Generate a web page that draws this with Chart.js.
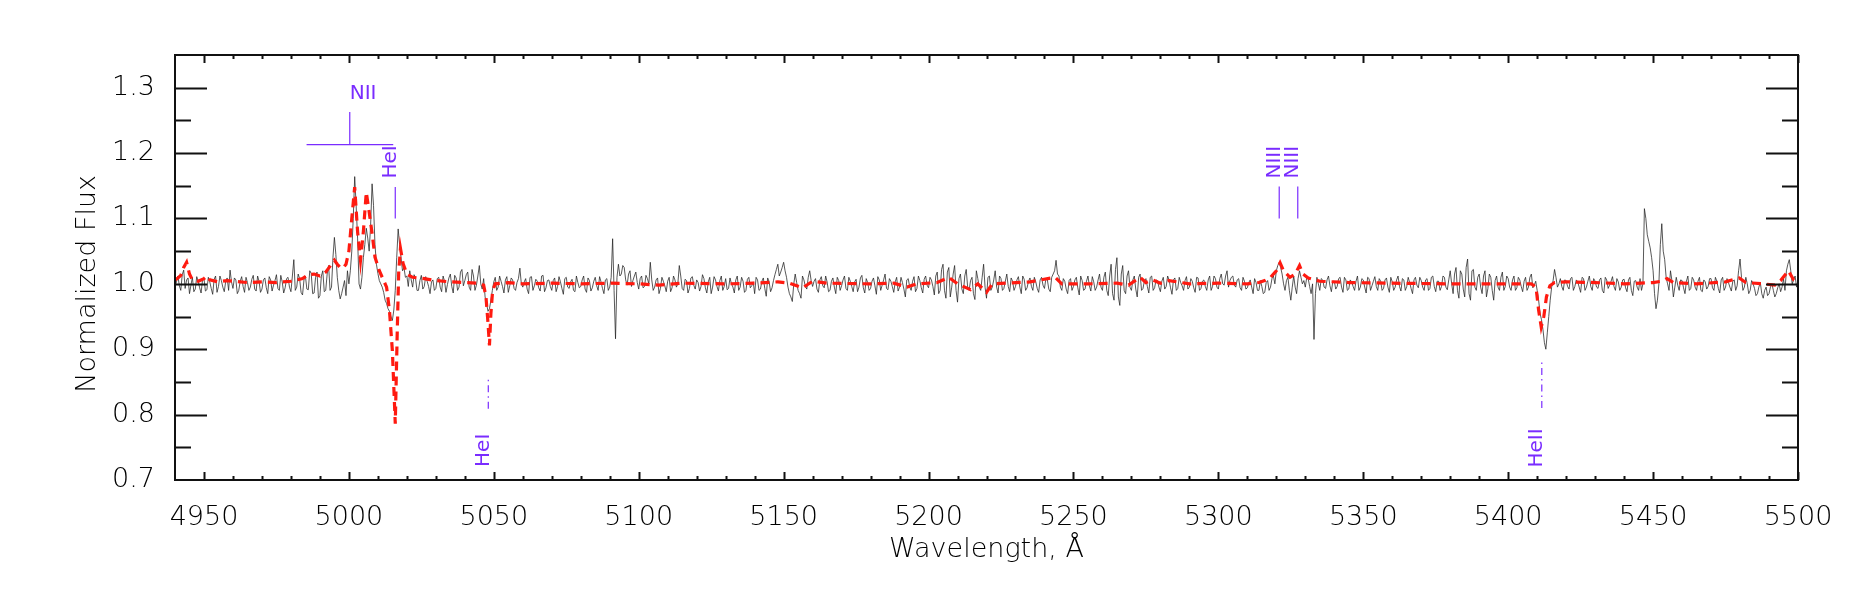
<!DOCTYPE html>
<html>
<head>
<meta charset="utf-8">
<script src="https://cdn.jsdelivr.net/npm/chart.js@4.4.1/dist/chart.umd.min.js"></script>
<style>
html,body{margin:0;padding:0;background:#fff;}
canvas{display:block;}
</style>
</head>
<body>
<canvas id="specChart" width="1850" height="591"></canvas>
<script>
// observed spectrum: obsFlux at whole Angstroms from waveStart, obsFluxMid at the half steps
const waveStart = 4940;
const obsFlux = [
  0.995, 1.012, 0.990, 1.021, 1.006, 0.985, 1.010, 0.992, 1.004, 0.986,
  1.008, 0.991, 1.003, 0.984, 1.012, 0.996, 1.005, 0.988, 1.009, 1.021,
  0.993, 1.006, 0.990, 1.011, 0.987, 1.002, 0.995, 1.013, 0.989, 1.004,
  0.992, 1.009, 0.985, 1.006, 0.998, 1.014, 0.990, 1.003, 0.994, 1.010,
  0.988, 1.037, 0.995, 1.008, 0.983, 1.012, 0.991, 1.016, 0.986, 1.018,
  0.982, 1.020, 0.990, 1.028, 0.995, 1.071, 1.010, 0.977, 0.995, 0.982,
  1.000, 1.050, 1.164, 1.070, 0.992, 1.040, 1.085, 1.050, 1.153, 1.060,
  1.016, 1.000, 0.987, 0.970, 0.958, 0.944, 0.990, 1.084, 1.040, 1.025,
  1.012, 1.020, 0.995, 1.008, 0.990, 1.013, 0.996, 1.004, 0.985, 1.006,
  0.993, 1.010, 0.988, 1.004, 0.999, 1.015, 0.986, 1.009, 0.995, 1.022,
  1.005, 1.018, 0.990, 1.012, 0.998, 1.028, 0.992, 0.980, 0.958, 0.975,
  1.003, 0.990, 1.012, 0.996, 1.006, 0.987, 1.009, 0.993, 1.002, 1.024,
  0.995, 1.008, 0.985, 1.011, 0.997, 1.004, 0.989, 1.013, 0.994, 1.006,
  0.990, 1.009, 0.996, 1.003, 0.984, 1.010, 0.993, 1.007, 0.988, 1.002,
  0.996, 1.012, 0.987, 1.005, 0.994, 1.010, 0.990, 1.003, 0.985, 1.008,
  0.995, 1.069, 0.916, 1.030, 1.015, 1.025, 0.998, 1.020, 1.005, 1.018,
  0.992, 1.012, 0.996, 1.008, 1.033, 0.990, 1.006, 0.985, 1.010, 0.997,
  1.004, 0.988, 1.012, 0.995, 1.028, 0.993, 1.007, 0.986, 1.009, 0.998,
  1.006, 0.989, 1.014, 0.994, 1.003, 0.985, 1.011, 0.996, 1.005, 0.990,
  1.008, 0.993, 1.000, 0.986, 1.012, 0.995, 1.004, 0.990, 1.010, 0.997,
  0.985, 1.006, 0.992, 1.009, 0.981, 1.003, 0.994, 1.014, 1.030, 1.018,
  1.033, 1.010, 0.985, 0.973, 1.015, 0.990, 0.978, 1.006, 0.992, 1.020,
  0.996, 1.008, 0.987, 1.011, 0.994, 1.003, 0.990, 1.009, 0.985, 1.005,
  0.997, 1.012, 0.990, 1.004, 0.988, 1.007, 0.995, 1.013, 0.986, 1.002,
  0.993, 1.009, 0.984, 1.006, 0.998, 1.015, 0.991, 1.004, 0.987, 1.010,
  0.995, 1.002, 0.980, 1.008, 0.990, 1.011, 0.993, 1.005, 0.986, 1.012,
  0.994, 1.006, 0.983, 1.018, 0.990, 1.030, 0.978, 1.025, 0.995, 1.028,
  0.972, 1.015, 0.985, 1.022, 0.990, 1.010, 0.976, 1.008, 0.990, 1.030,
  0.978, 1.012, 0.995, 1.020, 0.986, 1.008, 0.993, 1.015, 0.988, 1.004,
  0.996, 1.011, 0.985, 1.007, 0.994, 1.009, 0.990, 1.003, 0.987, 1.010,
  0.993, 1.006, 0.988, 1.015, 1.036, 1.012, 0.990, 1.004, 0.985, 1.008,
  0.996, 1.010, 0.983, 1.005, 0.992, 1.012, 0.989, 1.003, 0.995, 1.015,
  0.990, 1.018, 0.982, 1.030, 0.975, 1.040, 0.967, 1.028, 0.985, 1.020,
  0.990, 1.012, 0.980, 1.015, 0.993, 1.008, 0.986, 1.012, 0.994, 1.005,
  0.988, 1.010, 0.996, 1.006, 0.984, 1.009, 0.993, 1.002, 0.990, 1.011,
  0.995, 1.004, 0.987, 1.009, 0.993, 1.006, 0.990, 1.012, 0.996, 1.008,
  0.992, 1.015, 0.998, 1.020, 1.005, 1.012, 0.995, 1.008, 0.990, 1.004,
  0.994, 1.006, 0.985, 1.002, 0.990, 0.996, 0.987, 1.005, 0.995, 1.012,
  1.020, 1.033, 1.015, 0.990, 1.010, 0.975, 1.012, 0.985, 1.020, 1.000,
  0.995, 1.008, 0.985, 0.915, 1.010, 0.990, 1.006, 0.993, 1.012, 0.988,
  1.004, 0.996, 1.010, 0.987, 1.006, 0.992, 1.003, 0.990, 1.012, 0.995,
  1.006, 0.986, 1.008, 0.997, 1.011, 0.990, 1.004, 0.993, 1.009, 0.987,
  1.003, 0.995, 1.012, 0.989, 1.006, 0.996, 1.002, 0.985, 1.010, 0.994,
  1.005, 0.990, 1.008, 0.993, 1.012, 0.988, 1.004, 0.996, 1.010, 0.991,
  1.020, 0.985, 1.025, 0.978, 1.015, 0.980, 1.038, 0.975, 1.022, 0.990,
  1.015, 0.985, 1.020, 0.993, 1.010, 0.975, 1.012, 0.990, 1.018, 0.996,
  1.008, 0.990, 1.012, 0.994, 1.006, 0.988, 1.010, 0.995, 1.015, 0.998,
  0.990, 0.955, 0.930, 0.900, 0.950, 0.995, 1.022, 0.995, 1.008, 0.990,
  1.005, 0.992, 1.010, 0.996, 1.003, 0.987, 1.008, 0.995, 1.012, 0.990,
  1.004, 0.993, 1.009, 0.986, 1.006, 0.998, 1.011, 0.990, 1.003, 0.995,
  1.007, 0.988, 1.010, 0.982, 1.005, 0.990, 0.990, 1.115, 1.075, 1.055,
  1.020, 0.962, 1.000, 1.092, 1.037, 1.000, 1.020, 0.980, 1.010, 0.990,
  1.005, 0.985, 1.012, 0.993, 1.006, 0.990, 1.010, 0.988, 1.003, 0.996,
  1.008, 0.990, 1.004, 0.986, 1.010, 0.995, 1.002, 0.989, 1.006, 0.997,
  1.038, 0.990, 1.010, 0.985, 1.005, 0.993, 0.985, 1.002, 0.978, 0.995,
  0.985, 1.000, 0.980, 0.994, 0.988, 1.008, 1.020, 1.037, 1.000, 1.012,
  1.005
];
const obsFluxMid = [
  1.003, 0.997, 1.014, 0.993, 1.009, 0.998, 0.988, 1.011, 0.994, 1.006,
  0.989, 1.010, 0.993, 1.007, 0.987, 1.012, 0.995, 1.004, 0.990, 1.003,
  1.009, 0.985, 1.004, 0.996, 1.010, 0.990, 1.007, 0.992, 1.012, 0.987,
  1.006, 0.994, 1.011, 0.989, 1.005, 0.993, 1.013, 0.986, 1.008, 0.995,
  1.012, 0.990, 1.015, 0.987, 1.006, 0.992, 1.020, 0.985, 1.010, 0.978,
  1.012, 0.988, 1.015, 0.990, 1.040, 1.045, 0.990, 0.985, 1.005, 1.020,
  1.020, 1.100, 1.120, 1.000, 1.010, 1.060, 1.070, 1.090, 1.120, 1.030,
  1.005, 0.995, 0.975, 0.962, 0.950, 0.960, 1.040, 1.060, 1.020, 1.010,
  0.996, 1.006, 1.014, 0.990, 1.005, 0.992, 1.011, 0.996, 1.003, 0.990,
  1.008, 0.995, 1.012, 0.987, 1.009, 0.996, 1.013, 0.990, 1.018, 0.997,
  1.014, 0.995, 1.022, 0.990, 1.012, 1.000, 1.008, 0.970, 0.962, 0.990,
  1.010, 0.995, 1.004, 0.986, 1.011, 0.997, 1.006, 0.990, 1.008, 1.000,
  1.003, 0.992, 1.010, 0.990, 1.007, 0.994, 1.012, 0.988, 1.005, 0.996,
  1.005, 0.988, 1.011, 0.993, 1.008, 0.995, 1.003, 0.990, 1.012, 0.994,
  1.006, 0.992, 1.009, 0.989, 1.004, 0.997, 1.011, 0.993, 1.006, 0.990,
  1.010, 0.990, 1.010, 1.012, 1.028, 1.006, 1.015, 0.996, 1.012, 1.002,
  1.008, 0.994, 1.013, 1.000, 1.006, 0.995, 1.009, 0.993, 1.004, 0.988,
  1.010, 0.994, 1.006, 1.000, 1.012, 0.990, 1.005, 0.993, 1.011, 0.992,
  1.002, 0.996, 1.008, 0.986, 1.010, 0.995, 1.006, 0.989, 1.012, 0.996,
  0.991, 1.009, 0.995, 1.006, 0.990, 1.010, 0.987, 1.007, 0.994, 1.003,
  1.010, 0.990, 1.004, 0.993, 1.009, 0.988, 1.005, 1.022, 1.012, 1.025,
  1.020, 0.995, 0.980, 1.000, 1.002, 0.985, 1.012, 0.996, 1.010, 1.005,
  1.004, 0.992, 1.006, 0.997, 1.012, 0.988, 1.004, 0.995, 1.010, 0.990,
  1.006, 0.993, 1.010, 0.996, 1.003, 0.988, 1.009, 0.994, 1.008, 0.990,
  1.004, 0.997, 1.011, 0.990, 1.006, 0.993, 1.008, 0.996, 1.003, 0.989,
  1.010, 0.992, 1.006, 0.995, 1.004, 0.988, 1.012, 0.994, 1.007, 0.998,
  1.010, 0.996, 1.012, 0.985, 1.022, 0.990, 1.018, 0.980, 1.015, 0.990,
  1.008, 0.992, 1.012, 0.995, 1.005, 0.985, 1.020, 0.995, 1.010, 0.995,
  1.010, 0.990, 1.006, 0.995, 1.012, 0.990, 1.004, 0.996, 1.009, 0.990,
  1.006, 0.995, 1.012, 0.990, 1.004, 0.996, 1.010, 0.993, 1.006, 0.998,
  1.008, 0.992, 1.010, 1.020, 1.015, 0.995, 1.008, 0.992, 1.005, 0.990,
  1.006, 0.994, 1.012, 0.990, 1.004, 0.997, 1.011, 0.990, 1.006, 0.995,
  1.010, 0.990, 1.012, 0.985, 1.022, 0.980, 1.015, 0.990, 1.012, 0.995,
  1.006, 0.992, 1.010, 0.990, 1.005, 0.996, 1.010, 0.990, 1.006, 0.995,
  1.004, 0.992, 1.012, 0.994, 1.006, 0.990, 1.010, 0.997, 1.005, 0.992,
  1.008, 0.994, 1.010, 0.990, 1.004, 0.996, 1.006, 0.990, 1.012, 0.995,
  1.008, 1.000, 1.012, 0.995, 1.010, 0.998, 1.006, 0.994, 1.010, 0.992,
  1.002, 0.995, 1.008, 0.990, 1.005, 0.985, 1.002, 0.990, 1.008, 1.000,
  1.028, 1.025, 1.000, 1.005, 0.990, 0.995, 0.995, 1.008, 1.010, 1.005,
  1.010, 0.996, 1.000, 0.985, 1.000, 1.008, 0.995, 1.006, 0.997, 1.004,
  0.992, 1.008, 0.995, 1.010, 0.990, 1.006, 0.996, 1.004, 0.990, 1.008,
  0.995, 1.010, 0.990, 1.004, 0.996, 1.008, 0.990, 1.006, 0.995, 1.010,
  0.990, 1.006, 0.996, 1.008, 0.990, 1.010, 0.993, 1.006, 0.998, 1.010,
  0.995, 1.006, 0.990, 1.010, 0.996, 1.004, 0.990, 1.012, 0.995, 1.006,
  1.000, 1.015, 0.990, 1.020, 0.992, 1.025, 0.985, 1.020, 0.995, 1.010,
  0.995, 1.012, 0.980, 1.015, 0.990, 1.005, 0.995, 1.010, 0.990, 1.012,
  0.995, 1.006, 0.990, 1.010, 0.996, 1.004, 0.990, 1.010, 0.994, 1.004,
  0.975, 0.945, 0.910, 0.925, 0.975, 1.005, 1.010, 1.000, 0.996, 1.006,
  0.996, 1.008, 0.990, 1.006, 0.995, 1.010, 0.990, 1.004, 0.996, 1.008,
  0.995, 1.006, 0.990, 1.010, 0.993, 1.004, 0.996, 1.008, 0.990, 1.006,
  0.994, 1.006, 0.990, 1.004, 0.995, 1.008, 1.000, 1.100, 1.065, 1.040,
  0.985, 0.975, 1.060, 1.050, 1.010, 0.990, 1.005, 0.995, 0.998, 1.006,
  0.994, 1.004, 0.990, 1.010, 0.995, 1.004, 0.990, 1.006, 0.992, 1.008,
  0.994, 1.010, 0.993, 1.006, 0.990, 1.008, 0.995, 1.004, 0.990, 1.020,
  1.010, 0.995, 1.000, 0.990, 1.000, 0.982, 0.995, 0.985, 0.990, 0.982,
  0.995, 0.990, 0.985, 1.000, 0.995, 0.990, 1.030, 1.020, 1.006, 0.995
];

// model (red dashed)
const modelWave = [
  4940, 4941, 4942, 4943, 4944, 4945, 4946, 4948, 4950, 4951, 4952, 4955, 4958, 4960,
  4965, 4970, 4975, 4980, 4984, 4986, 4988, 4990, 4992, 4994, 4995, 4996, 4997, 4998,
  4999, 5000, 5001, 5002, 5003, 5004, 5005, 5006, 5007, 5008, 5009, 5010.5, 5012, 5013,
  5014, 5015, 5016, 5016.7, 5017.2, 5017.8, 5018.7, 5020, 5022, 5026, 5030, 5035, 5040,
  5045, 5046.5, 5047.3, 5048, 5048.5, 5049, 5049.6, 5050.5, 5055, 5060, 5070, 5080,
  5090, 5100, 5107, 5115, 5130, 5140, 5148, 5152, 5156.6, 5160, 5165, 5180, 5188,
  5192.6, 5196, 5203, 5207, 5210, 5214.5, 5217, 5220, 5222, 5235, 5243.7, 5246, 5255,
  5265, 5269, 5273, 5275, 5277.3, 5280, 5283, 5290, 5300, 5310, 5314, 5316, 5318,
  5320, 5321.3, 5322.5, 5324.7, 5326.5, 5328, 5329.2, 5331, 5335, 5345, 5360, 5380,
  5400, 5408, 5409.6, 5410.5, 5411.4, 5412.3, 5413.2, 5414.4, 5416, 5420, 5430, 5440,
  5450, 5453, 5454.8, 5457, 5465, 5475, 5479.7, 5482, 5488, 5492, 5494, 5496.7,
  5498.5, 5500
];
const modelFlux = [
  1.006, 1.009, 1.013, 1.025, 1.033, 1.015, 1.006, 1.004, 1.008, 1.012, 1.006, 1.003, 1.005, 1.004,
  1.002, 1.003, 1.002, 1.004, 1.008, 1.014, 1.015, 1.012, 1.018, 1.030, 1.036, 1.030, 1.025, 1.024,
  1.030, 1.050, 1.100, 1.148, 1.080, 1.036, 1.080, 1.140, 1.110, 1.077, 1.041, 1.020, 1.005, 0.995,
  0.959, 0.898, 0.786, 0.930, 1.020, 1.054, 1.031, 1.015, 1.010, 1.008, 1.005, 1.003, 1.002,
  1.001, 0.998, 0.980, 0.940, 0.906, 0.955, 0.990, 1.000, 1.002, 1.000, 1.001, 1.000,
  1.001, 1.000, 0.998, 1.001, 1.000, 1.001, 1.003, 1.001, 0.994, 1.004, 1.001, 1.000, 1.001,
  0.995, 1.000, 1.002, 1.010, 1.000, 0.991, 1.000, 0.987, 1.000, 1.003, 1.010, 1.000, 1.000,
  1.001, 0.998, 1.010, 1.002, 1.006, 1.001, 1.005, 1.000, 1.001, 1.000, 1.002, 1.005, 1.010,
  1.020, 1.032, 1.020, 1.010, 1.015, 1.028, 1.015, 1.009, 1.004, 1.002, 1.001, 1.000,
  1.000, 1.000, 0.995, 0.960, 0.934, 0.950, 0.980, 0.997, 1.002, 1.003, 1.002, 1.000,
  1.002, 1.004, 1.008, 1.002, 1.000, 1.003, 1.009, 1.002, 1.000, 0.998, 1.005, 1.020,
  1.006, 1.002
];

const xTicks = [4950, 5000, 5050, 5100, 5150, 5200, 5250, 5300, 5350, 5400, 5450, 5500];
const yTicks = [0.7, 0.8, 0.9, 1.0, 1.1, 1.2, 1.3];

// line identifications
const lineNames = ['NII', 'HeI', 'NIII', 'NIII', 'HeI', 'HeII'];
const lineWaves = [5000.3, 5016.0, 5321.0, 5327.4, 5048.1, 5411.6];
const markLow   = [1.213, 1.100, 1.100, 1.100, 0.809, 0.810];
const markHigh  = [1.263, 1.148, 1.149, 1.149, 0.857, 0.886];
const labelAt   = [1.283, 1.161, 1.161, 1.161, 0.720, 0.719];
const absorption = [false, false, false, false, true, true];
const niiBracket = [4985.4, 5015.3]; // at flux 1.213

const fam = "'DejaVu Sans', sans-serif";
const purple = '#7a2cff';

const obsPoints = [];
for (let i = 0; i < obsFlux.length; i++) {
  obsPoints.push({x: waveStart + i, y: obsFlux[i]});
  if (i < obsFluxMid.length) obsPoints.push({x: waveStart + i + 0.5, y: obsFluxMid[i]});
}
const modelPoints = modelWave.map((w, i) => ({x: w, y: modelFlux[i]}));

const datasets = [
  {data: obsPoints, borderColor: 'rgba(35,35,35,0.85)', borderWidth: 0.9, pointRadius: 0, order: 3},
  {data: modelPoints, borderColor: '#ff1a10', borderWidth: 3.2, borderDash: [9, 6], pointRadius: 0, order: 2}
];
for (let i = 0; i < lineNames.length; i++) {
  datasets.push({
    data: [{x: lineWaves[i], y: markLow[i]}, {x: lineWaves[i], y: markHigh[i]}],
    borderColor: purple, borderWidth: 1.2, pointRadius: 0, order: 1,
    borderDash: absorption[i] ? [7, 4, 1.5, 4] : []
  });
}
datasets.push({
  data: [{x: niiBracket[0], y: markLow[0]}, {x: niiBracket[1], y: markLow[0]}],
  borderColor: purple, borderWidth: 1.2, pointRadius: 0, order: 1
});

const frame = {
  id: 'frame',
  afterDraw(chart) {
    const {ctx, chartArea: a, scales: {x, y}} = chart;
    ctx.save();
    ctx.strokeStyle = '#111';
    ctx.lineWidth = 2;
    ctx.strokeRect(a.left, a.top, a.right - a.left, a.bottom - a.top);
    ctx.beginPath();
    for (let v = 4950; v <= 5500; v += 10) {
      const px = Math.round(x.getPixelForValue(v)) + 0.5;
      const len = v % 50 === 0 ? 8 : 4;
      ctx.moveTo(px, a.bottom); ctx.lineTo(px, a.bottom - len);
      ctx.moveTo(px, a.top); ctx.lineTo(px, a.top + len);
    }
    for (let k = 1; k < 13; k++) {
      const v = 0.7 + k * 0.05;
      const py = Math.round(y.getPixelForValue(v)) + 0.5;
      const len = k % 2 === 0 ? 32 : 16;
      ctx.moveTo(a.left, py); ctx.lineTo(a.left + len, py);
      ctx.moveTo(a.right, py); ctx.lineTo(a.right - len, py);
    }
    ctx.stroke();

    // axis titles
    ctx.fillStyle = '#000';
    ctx.font = '200 27px ' + fam;
    ctx.textAlign = 'center';
    ctx.textBaseline = 'alphabetic';
    ctx.fillText('Wavelength, Å', (a.left + a.right) / 2, 557);
    ctx.save();
    ctx.translate(95, y.getPixelForValue(1.0));
    ctx.rotate(-Math.PI / 2);
    ctx.fillText('Normalized Flux', 0, 0);
    ctx.restore();

    // line labels
    ctx.fillStyle = purple;
    ctx.font = '20px ' + fam;
    ctx.textAlign = 'left';
    for (let i = 0; i < lineNames.length; i++) {
      const px = x.getPixelForValue(lineWaves[i]);
      const py = y.getPixelForValue(labelAt[i]);
      if (i === 0) {
        ctx.fillText(lineNames[i], px, py);
      } else {
        ctx.save();
        ctx.translate(px + 0.5, py);
        ctx.rotate(-Math.PI / 2);
        ctx.fillText(lineNames[i], 0, 0);
        ctx.restore();
      }
    }
    ctx.restore();
  }
};

new Chart(document.getElementById('specChart'), {
  type: 'line',
  data: {datasets: datasets},
  options: {
    responsive: false,
    animation: false,
    devicePixelRatio: 1,
    layout: {padding: {top: 55, right: 52, left: 0, bottom: 0}},
    plugins: {legend: {display: false}, tooltip: {enabled: false}},
    scales: {
      x: {
        type: 'linear', min: 4940, max: 5500,
        grid: {display: false}, border: {display: false},
        afterFit: s => { s.height = 111; },
        afterBuildTicks: s => { s.ticks = xTicks.map(v => ({value: v})); },
        ticks: {
          color: '#000', padding: 14, maxRotation: 0, autoSkip: false,
          font: {family: fam, size: 27, weight: '200'},
          callback: v => String(v)
        }
      },
      y: {
        min: 0.7, max: 1.35,
        grid: {display: false}, border: {display: false},
        afterFit: s => { s.width = 175; },
        afterBuildTicks: s => { s.ticks = yTicks.map(v => ({value: v})); },
        ticks: {
          color: '#000', padding: 12, autoSkip: false,
          font: {family: fam, size: 27, weight: '200'},
          callback: v => v.toFixed(1)
        }
      }
    }
  },
  plugins: [frame]
});
</script>
</body>
</html>
